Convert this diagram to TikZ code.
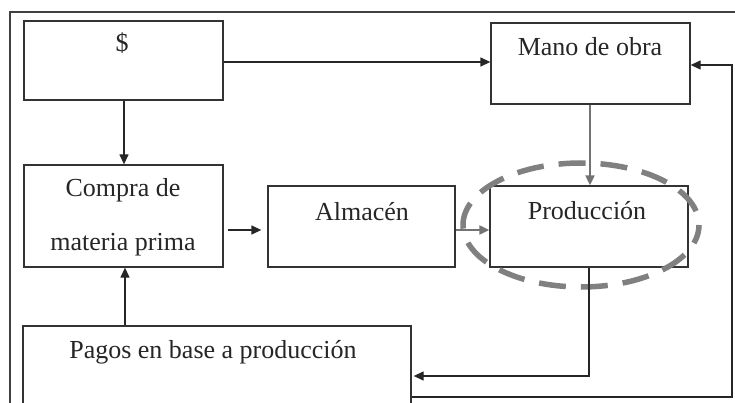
\documentclass[tikz,border=0pt]{standalone}
\usepackage{fontspec}
\setmainfont{Liberation Serif}
\usetikzlibrary{arrows.meta}
\begin{document}
\begin{tikzpicture}[x=1pt,y=-1pt,
  box/.style={draw=black!80, line width=1.3pt, inner sep=0pt, fill=white},
  lbl/.style={inner sep=0pt, font=\fontsize{26}{30}\selectfont, text=black!85},
  conn/.style={draw=black!85, line width=1.3pt, -{Triangle[length=10pt,width=9pt]}},
  gconn/.style={draw=black!55, line width=2pt, -{Triangle[length=10pt,width=9pt]}},
  ring/.style={draw=black!50, line width=5.5pt, dash pattern=on 27pt off 15pt, dash phase=8pt}]
\useasboundingbox (0,0) rectangle (735,403);
\clip (0,0) rectangle (735,403);
% outer frame
\draw[black!75, line width=1.2pt] (10,420) -- (10,12) -- (745,12);
% boxes
\node[box, minimum width=199pt, minimum height=79pt] (dollar) at (123.5,60.5) {};
\node[box, minimum width=199pt, minimum height=81pt] (mano) at (590.5,63.5) {};
\node[box, minimum width=199pt, minimum height=102pt] (compra) at (123.5,216) {};
\node[box, minimum width=187pt, minimum height=81pt] (almacen) at (361.5,226.5) {};
\node[box, minimum width=198pt, minimum height=81pt] (produccion) at (589,226.5) {};
\node[box, minimum width=388pt, minimum height=94pt] (pagos) at (217,373) {};
% texts
\node[lbl] (tdollar) at (122,43) {\$};
\node[lbl] (tmano) at (590,47) {Mano de obra};
\node[lbl] (tcompra1) at (123,190) {Compra de};
\node[lbl] (tcompra2) at (123,245) {materia prima};
\node[lbl] (talmacen) at (362,212) {Almacén};
\node[lbl] (tprod) at (587,211) {Producción};
\node[lbl] (tpagos) at (213,352) {Pagos en base a producción};
% dashed ring
\draw[ring] (581,225) ellipse [x radius=118, y radius=62];
% connectors
\draw[conn] (dollar.east |- 0,62) -- (mano.west |- 0,62);
\draw[conn] (124,0 |- dollar.south) -- (124,0 |- compra.north);
\draw[conn, shorten <=4pt, shorten >=6pt] (compra.east |- 0,230) -- (almacen.west |- 0,230);
\draw[gconn] (almacen.east |- 0,230) -- (produccion.west |- 0,230);
\draw[gconn] (590,0 |- mano.south) -- (590,0 |- produccion.north);
\coordinate (c1) at (589,376);
\draw[conn, shorten >=2pt] (589,0 |- produccion.south) -- (c1) -- (pagos.east |- c1);
\draw[conn] (125,0 |- pagos.north) -- (125,0 |- compra.south);
\coordinate (c2) at (732,397);
\coordinate (c3) at (732,65);
\draw[conn] (pagos.east |- c2) -- (c2) -- (c3) -- (mano.east |- c3);
\end{tikzpicture}
\end{document}
